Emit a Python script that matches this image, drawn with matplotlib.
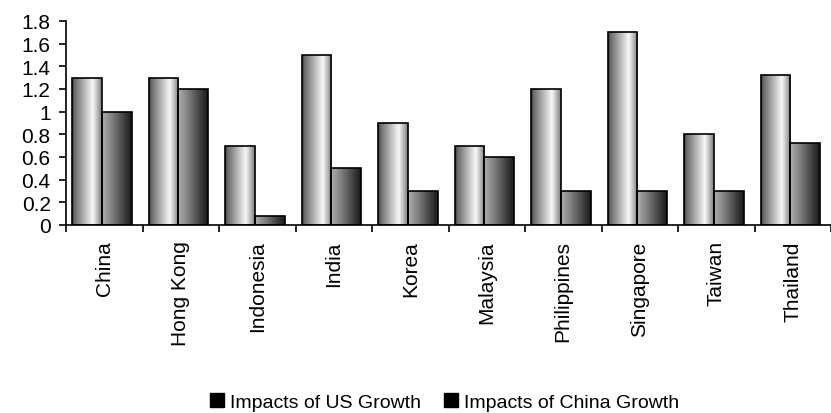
import numpy as np
import matplotlib
matplotlib.use("Agg")
import matplotlib.pyplot as plt
from matplotlib.patches import Patch

plt.rcParams['font.family'] = ['Liberation Sans', 'DejaVu Sans']

countries = ["China", "Hong Kong", "Indonesia", "India", "Korea",
             "Malaysia", "Philippines", "Singapore", "Taiwan", "Thailand"]
us_growth = [1.3, 1.3, 0.7, 1.5, 0.9, 0.7, 1.2, 1.7, 0.8, 1.32]
china_growth = [1.0, 1.2, 0.08, 0.5, 0.3, 0.6, 0.3, 0.3, 0.3, 0.72]
yticks = [0, 0.2, 0.4, 0.6, 0.8, 1, 1.2, 1.4, 1.6, 1.8]

fig = plt.figure(figsize=(8.31, 4.14), dpi=100)
ax = fig.add_axes([66 / 831, 188 / 414, 765 / 831, 204 / 414])

x = np.arange(len(countries))
w = 0.39

# horizontal shading ramps, cylinder look
u = np.linspace(0, 1, 64)
ramp_us = np.interp(u, [0, 0.08, 0.7, 1], [0.22, 0.42, 0.97, 0.5])
ramp_cn = np.interp(u, [0, 0.3, 1], [0.68, 0.52, 0.1])

def shaded_bars(xpos, vals, ramp):
    bars = ax.bar(xpos, vals, w, color="none", edgecolor="black", linewidth=1.2, zorder=3)
    for b in bars:
        x0, y0 = b.get_x(), b.get_y()
        img = ax.imshow(ramp[np.newaxis, :], cmap="gray", vmin=0, vmax=1,
                        extent=[x0, x0 + b.get_width(), y0, y0 + b.get_height()],
                        aspect="auto", zorder=2, interpolation="bilinear")
        img.set_clip_path(b)
    return bars

shaded_bars(x - 0.225, us_growth, ramp_us)
shaded_bars(x + 0.165, china_growth, ramp_cn)

ax.set_xlim(-0.5, len(countries) - 0.5)
ax.set_ylim(0, 1.8)
ax.set_yticks(yticks)
ax.set_yticklabels(["%g" % t for t in yticks])
ax.set_xticks(x)
ax.set_xticklabels(countries, rotation=90, va="top", ha="center")
ax.set_xticks(np.arange(len(countries) + 1) - 0.5, minor=True)
ax.tick_params(axis="x", which="major", length=0, pad=11, labelsize=15)
ax.tick_params(axis="x", which="minor", length=5, width=1.2, direction="out")
ax.tick_params(axis="y", length=5, width=1.2, labelsize=15, pad=6)

for s in ["top", "right"]:
    ax.spines[s].set_visible(False)
for s in ["left", "bottom"]:
    ax.spines[s].set_linewidth(1.2)

handles = [Patch(facecolor="black", edgecolor="black"), Patch(facecolor="black", edgecolor="black")]
fig.legend(handles, ["Impacts of US Growth", "Impacts of China Growth"],
           loc="center", bbox_to_anchor=(0.535, 0.027), ncol=2, frameon=False,
           fontsize=14, handlelength=0.7, handleheight=0.7, handletextpad=0.3,
           columnspacing=1.2)

fig.savefig("out.png", dpi=100)
